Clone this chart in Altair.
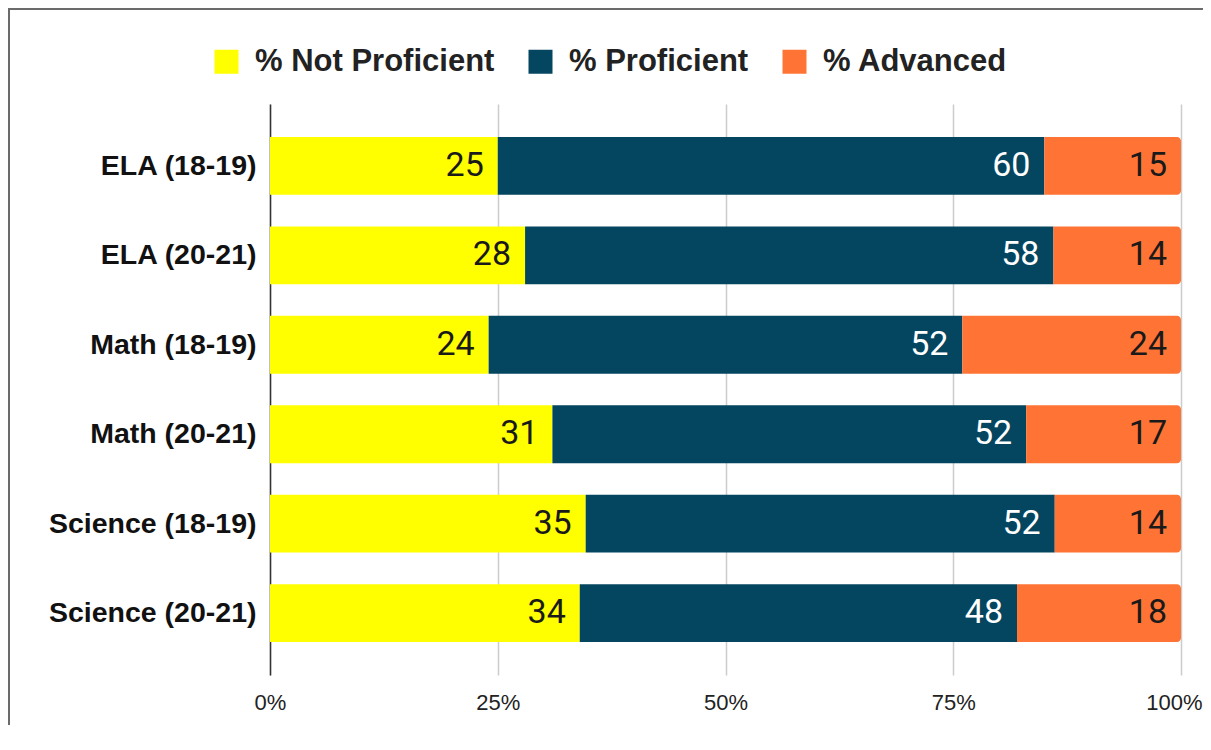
import altair as alt
import pandas as pd

categories = ["ELA (18-19)", "ELA (20-21)", "Math (18-19)", "Math (20-21)",
              "Science (18-19)", "Science (20-21)"]
series_names = ["% Not Proficient", "% Proficient", "% Advanced"]
not_proficient = [25, 28, 24, 31, 35, 34]
proficient = [60, 58, 52, 52, 52, 48]
advanced = [15, 14, 24, 17, 14, 18]
colors = ["#FFFF00", "#04455F", "#FF7435"]

rows = []
for i, c in enumerate(categories):
    for j, (s, vals) in enumerate(zip(series_names, [not_proficient, proficient, advanced])):
        rows.append({"category": c, "series": s, "value": vals[i], "order": j})
df = pd.DataFrame(rows)

W, H = 911, 571
PAD = {"left": 262, "top": 96, "right": 22, "bottom": 50}

base = alt.Chart(df).transform_stack(
    stack="value", groupby=["category"], as_=["x0", "x1"],
    offset="normalize", sort=[alt.SortField("order")]
)

y_enc = alt.Y("category:N", sort=categories, title=None,
              scale=alt.Scale(paddingInner=0.353, paddingOuter=0.368),
              axis=alt.Axis(domain=True, domainColor="#333333", domainWidth=1.5,
                            ticks=False, grid=False, labelFont="Liberation Sans",
                            labelFontWeight="bold", labelFontSize=28.5, labelColor="#111111",
                            labelPadding=14, labelLimit=0))
x_enc = alt.X("x0:Q", title=None,
              scale=alt.Scale(domain=[0, 1], nice=False),
              axis=alt.Axis(format="%", values=[0, 0.25, 0.5, 0.75, 1], grid=True,
                            gridColor="#cccccc", gridWidth=1.5, domain=False, ticks=False,
                            labelFont="Liberation Sans", labelFontSize=22,
                            labelColor="#222222", labelPadding=17, labelFlush=False,
                            labelOverlap=False,
                            labelOffset={"condition": {"test": "datum.value == 1", "value": -7},
                                         "value": 0}))
color_enc = alt.Color("series:N",
                      scale=alt.Scale(domain=series_names, range=colors),
                      legend=alt.Legend(title=None, orient="none", direction="horizontal",
                                        legendX=-59, legendY=-58, symbolType="square",
                                        symbolSize=576, symbolStrokeWidth=0,
                                        labelFont="Liberation Sans", labelFontWeight="bold",
                                        labelFontSize=31, labelColor="#222222",
                                        labelOffset=13, columnPadding=30, padding=0,
                                        labelLimit=0))

bars = base.transform_filter(alt.datum.series != "% Advanced").mark_bar().encode(
    y=y_enc, x=x_enc, x2="x1:Q", color=color_enc)
adv_bars = base.transform_filter(alt.datum.series == "% Advanced").mark_bar(
    cornerRadiusTopRight=4, cornerRadiusBottomRight=4).encode(
    y=y_enc, x=x_enc, x2="x1:Q", color=color_enc)
labels = base.mark_text(align="right", baseline="middle", dx=-14, font="Roboto",
                        fontSize=34).encode(
    y=alt.Y("category:N", sort=categories),
    x=alt.X("x1:Q"),
    text=alt.Text("value:Q"),
    color=alt.condition(alt.datum.series == "% Proficient",
                        alt.value("#ffffff"), alt.value("#1a1a1a")))

one = pd.DataFrame({"a": [0]})
frame_left = alt.Chart(one).mark_rule(color="#6b6b6b", strokeWidth=2).encode(
    x=alt.value(-261), y=alt.value(-96), y2=alt.value(H + PAD["bottom"]))
frame_top = alt.Chart(one).mark_rule(color="#6b6b6b", strokeWidth=2).encode(
    y=alt.value(-95), x=alt.value(-262), x2=alt.value(W + PAD["right"]))

chart = alt.layer(bars, adv_bars, labels, frame_left, frame_top).properties(
    width=W, height=H, padding=PAD, autosize="none"
).configure_view(stroke=None)

chart.save("out.html", embed_options={"renderer": "svg", "actions": False})
